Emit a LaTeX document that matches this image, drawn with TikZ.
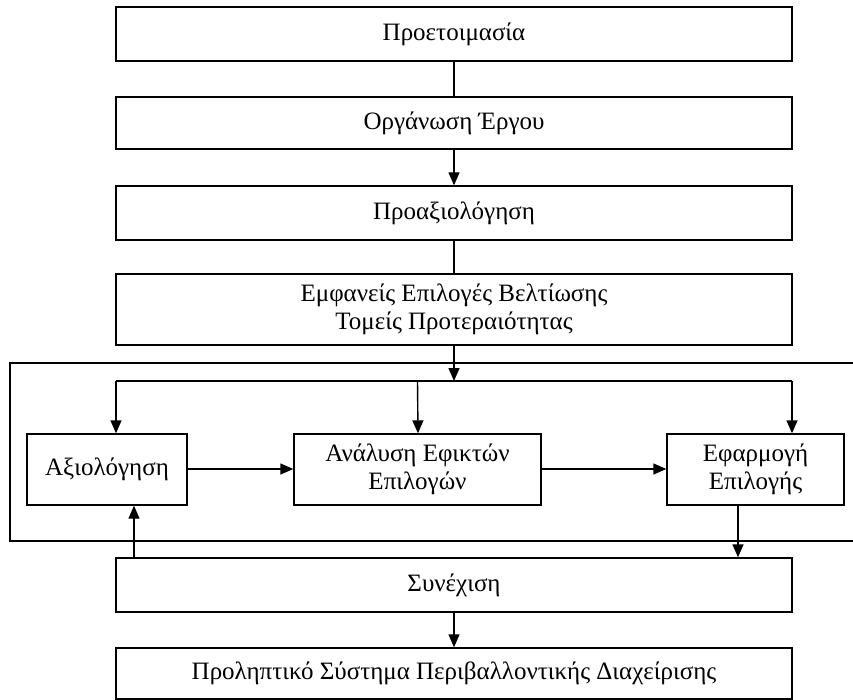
\documentclass[tikz,border=0pt]{standalone}
\usepackage{fontspec}
\setmainfont{Liberation Serif}
\usetikzlibrary{arrows.meta}
\begin{document}
\begin{tikzpicture}[x=1pt,y=-1pt,
  box/.style={draw, line width=1.4pt, minimum width=676pt, inner sep=0pt,
    align=center, font=\fontsize{25}{27.5}\selectfont},
  inbox/.style={draw, line width=1.4pt, minimum height=71pt, inner sep=0pt,
    align=center, font=\fontsize{25}{27.5}\selectfont},
  link/.style={line width=1.4pt},
  arr/.style={line width=1.4pt, -{Triangle[length=13pt,width=11pt]}}]
\useasboundingbox (0,0) rectangle (853,700);
% main sequence of stages
\node[box, minimum height=54pt] (prep) at (454,34) {Προετοιμασία};
\node[box, minimum height=52pt] (org) at (454,123) {Οργάνωση Έργου};
\node[box, minimum height=54pt] (pre) at (454,213) {Προαξιολόγηση};
\node[box, minimum height=71pt] (opt) at (454,309.5) {Εμφανείς Επιλογές Βελτίωσης\\Τομείς Προτεραιότητας};
\node[box, minimum height=54pt] (cont) at (454,585) {Συνέχιση};
\node[box, minimum height=51pt] (ems) at (454,673.5) {Προληπτικό Σύστημα Περιβαλλοντικής Διαχείρισης};
% enclosing frame, open to the right
\draw[link] (853,363) -- (10,363) -- (10,541) -- (853,541);
% inner cycle
\node[inbox, minimum width=160pt] (eval) at (107,469.5) {Αξιολόγηση};
\node[inbox, minimum width=247pt] (anal) at (417.5,469.5) {Ανάλυση Εφικτών\\Επιλογών};
\node[inbox, minimum width=177pt] (impl) at (755.5,469.5) {Εφαρμογή\\Επιλογής};
% splitting line
\coordinate (split) at (454,381);
\coordinate (splitL) at (116,381);
\coordinate (splitR) at (792,381);
% connectors
\draw[link] (prep.south) -- (org.north);
\draw[arr] (org.south) -- (pre.north);
\draw[link] (pre.south) -- (opt.north);
\draw[arr] (opt.south) -- (split);
\draw[link] (splitL) -- (splitR);
\draw[arr] (splitL) -- (splitL |- eval.north);
\draw[arr] (anal.north |- split) -- ([xshift=0.5pt]anal.north);
\draw[arr] (splitR) -- (splitR |- impl.north);
\draw[arr] ([yshift=0.5pt]eval.east) -- ([yshift=0.5pt]anal.west);
\draw[arr] ([yshift=0.5pt]anal.east) -- ([yshift=0.5pt]impl.west);
\draw[arr] ([xshift=-17.5pt]impl.south) -- ([xshift=284pt]cont.north);
\draw[arr] ([xshift=-320pt]cont.north) -- ([xshift=27pt]eval.south);
\draw[arr] (cont.south) -- (ems.north);
\end{tikzpicture}
\end{document}
